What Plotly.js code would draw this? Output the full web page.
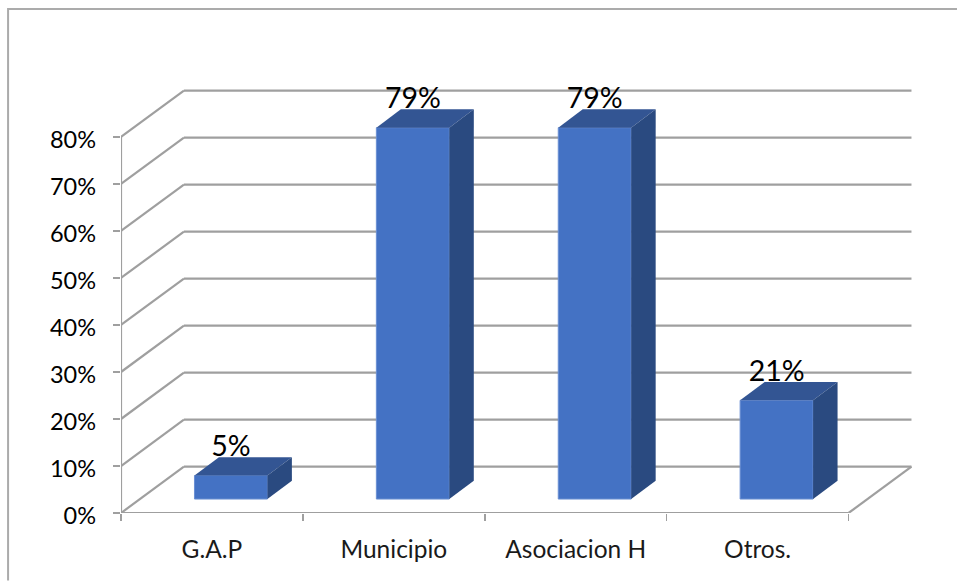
<!DOCTYPE html>
<html>
<head>
<meta charset="utf-8">
<script src="https://cdn.plot.ly/plotly-3.0.1.min.js"></script>
<style>html,body{margin:0;padding:0;background:#fff;overflow:hidden}</style>
</head>
<body>
<div id="chart" style="width:957px;height:581px"></div>
<script>
// Data
var categories = ['G.A.P', 'Municipio', 'Asociacion H', 'Otros.'];
var seriesValues = [5, 79, 79, 21];
var yTicks = [0, 10, 20, 30, 40, 50, 60, 70, 80];

// Oblique "3D" look, in axis units
var wallDepthX = 0.346, wallDepthY = 9.85;
var barWidth = 0.401, barShiftX = 0.1045, barBase = 2.97;
var barDepthX = 0.1346, barDepthY = 3.9;
var labelLift = 2.7;

// Colours
var frontColor = '#4472C4', topColor = '#335593', sideColor = '#2A4A80', gridColor = '#9F9F9F';

// Axis geometry: the label axis sits a few pixels below the drawing axis
var labelDrop = 3;
var ml = 120.5, mr = 37, mt = 80, mb = 67.5 - labelDrop, W = 957, H = 581;
var plotH = H - mt - mb, plotW = W - ml - mr;
var catPx = 182, pctPx = 4.706;
var xRange = [-0.5, -0.5 + plotW / catPx];
var ySpan = (plotH - labelDrop) / pctPx;
var xLeft = -0.5, xRight = categories.length - 0.5;

var shapes = [];
function seg(x0, y0, x1, y1) {
  shapes.push({type: 'line', xref: 'x', yref: 'y', x0: x0, y0: y0, x1: x1, y1: y1,
    layer: 'below', line: {color: gridColor, width: 2.2}});
}
yTicks.forEach(function (t) {
  seg(xLeft, t, xLeft + wallDepthX, t + wallDepthY);
  seg(xLeft + wallDepthX, t + wallDepthY, xRight + wallDepthX, t + wallDepthY);
});
seg(xLeft, 0, xLeft, yTicks[yTicks.length - 1]);
seg(xLeft, 0, xRight, 0);
seg(xRight, 0, xRight + wallDepthX, wallDepthY);

// Outer frame (open at right and bottom, as in the picture)
var fx = (7.5 - ml) / plotW, fTop = 1 + (mt - 9) / plotH, fBot = -mb / plotH;
var frameRight = 1 + mr / plotW;
shapes.push({type: 'path', xref: 'paper', yref: 'paper', layer: 'below',
  path: 'M ' + fx + ' ' + fBot + ' L ' + fx + ' ' + fTop + ' L ' + frameRight + ' ' + fTop,
  line: {color: '#ABABAB', width: 2}});

var barX = seriesValues.map(function (v, i) { return i + barShiftX; });
var traces = [{
  type: 'bar', x: barX, y: seriesValues, base: barBase, width: barWidth,
  marker: {color: frontColor, line: {color: '#6A8FD3', width: 1}},
  hoverinfo: 'skip', showlegend: false
}];

seriesValues.forEach(function (v, i) {
  var l = barX[i] - barWidth / 2, r = barX[i] + barWidth / 2, b = barBase, t = barBase + v;
  traces.push({type: 'scatter', mode: 'lines', fill: 'toself', fillcolor: topColor,
    x: [l, r, r + barDepthX, l + barDepthX, l],
    y: [t, t, t + barDepthY, t + barDepthY, t],
    line: {width: 0, color: topColor}, hoverinfo: 'skip', showlegend: false});
  traces.push({type: 'scatter', mode: 'lines', fill: 'toself', fillcolor: sideColor,
    x: [r, r + barDepthX, r + barDepthX, r, r],
    y: [b, b + barDepthY, t + barDepthY, t, b],
    line: {width: 0, color: sideColor}, hoverinfo: 'skip', showlegend: false});
});

// Data labels
traces.push({type: 'scatter', mode: 'text', x: barX,
  y: seriesValues.map(function (v) { return v + barBase + labelLift; }),
  text: seriesValues.map(function (v) { return v + '%'; }),
  textposition: 'top center', cliponaxis: false,
  textfont: {family: 'Lato, sans-serif', size: 28.5, color: '#000'},
  hoverinfo: 'skip', showlegend: false});

// Category labels live on a second x axis that shares the same pixel scale
traces.push({type: 'scatter', mode: 'none', x: categories, y: seriesValues, xaxis: 'x2',
  hoverinfo: 'skip', showlegend: false});
// Percent labels live on a second y axis
traces.push({type: 'scatter', mode: 'none', x: barX, y: seriesValues, yaxis: 'y2',
  hoverinfo: 'skip', showlegend: false});

var boundaries = [];
for (var i = 0; i <= categories.length; i++) boundaries.push(i - 0.5);

var yTickText = yTicks.map(function (t) { return t + '%'; });

var layout = {
  width: W, height: H,
  margin: {l: ml, r: mr, t: mt, b: mb, pad: 0},
  paper_bgcolor: '#fff', plot_bgcolor: 'rgba(0,0,0,0)',
  showlegend: false, hovermode: false, bargap: 0,
  xaxis: {type: 'linear', range: xRange, fixedrange: true, showgrid: false, zeroline: false,
    showline: false, tickmode: 'array', tickvals: boundaries, showticklabels: false,
    ticks: 'outside', ticklen: 7, tickwidth: 1.5, tickcolor: gridColor, anchor: 'y'},
  xaxis2: {type: 'category', overlaying: 'x', anchor: 'y', side: 'bottom',
    categoryorder: 'array', categoryarray: categories,
    range: xRange, fixedrange: true, showgrid: false, zeroline: false, showline: false,
    ticks: '', tickangle: 0, ticklabelstandoff: 19,
    tickfont: {family: 'Lato, sans-serif', size: 24.5, color: '#1a1a1a'}},
  yaxis: {domain: [labelDrop / plotH, 1], range: [0, ySpan], fixedrange: true, showgrid: false,
    zeroline: false, showline: false, anchor: 'x', tickmode: 'array', tickvals: yTicks,
    showticklabels: false, ticks: 'outside', ticklen: 7, tickwidth: 1.5, tickcolor: gridColor},
  yaxis2: {domain: [0, 1 - labelDrop / plotH], range: [0, ySpan], fixedrange: true, showgrid: false,
    zeroline: false, showline: false, anchor: 'x', tickmode: 'array', tickvals: yTicks,
    ticktext: yTickText, ticks: '', ticklabelstandoff: 24,
    tickfont: {family: 'Lato, sans-serif', size: 23.5, color: '#000'}},
  shapes: shapes
};
Plotly.newPlot('chart', traces, layout, {displayModeBar: false, staticPlot: true});
</script>
</body>
</html>
